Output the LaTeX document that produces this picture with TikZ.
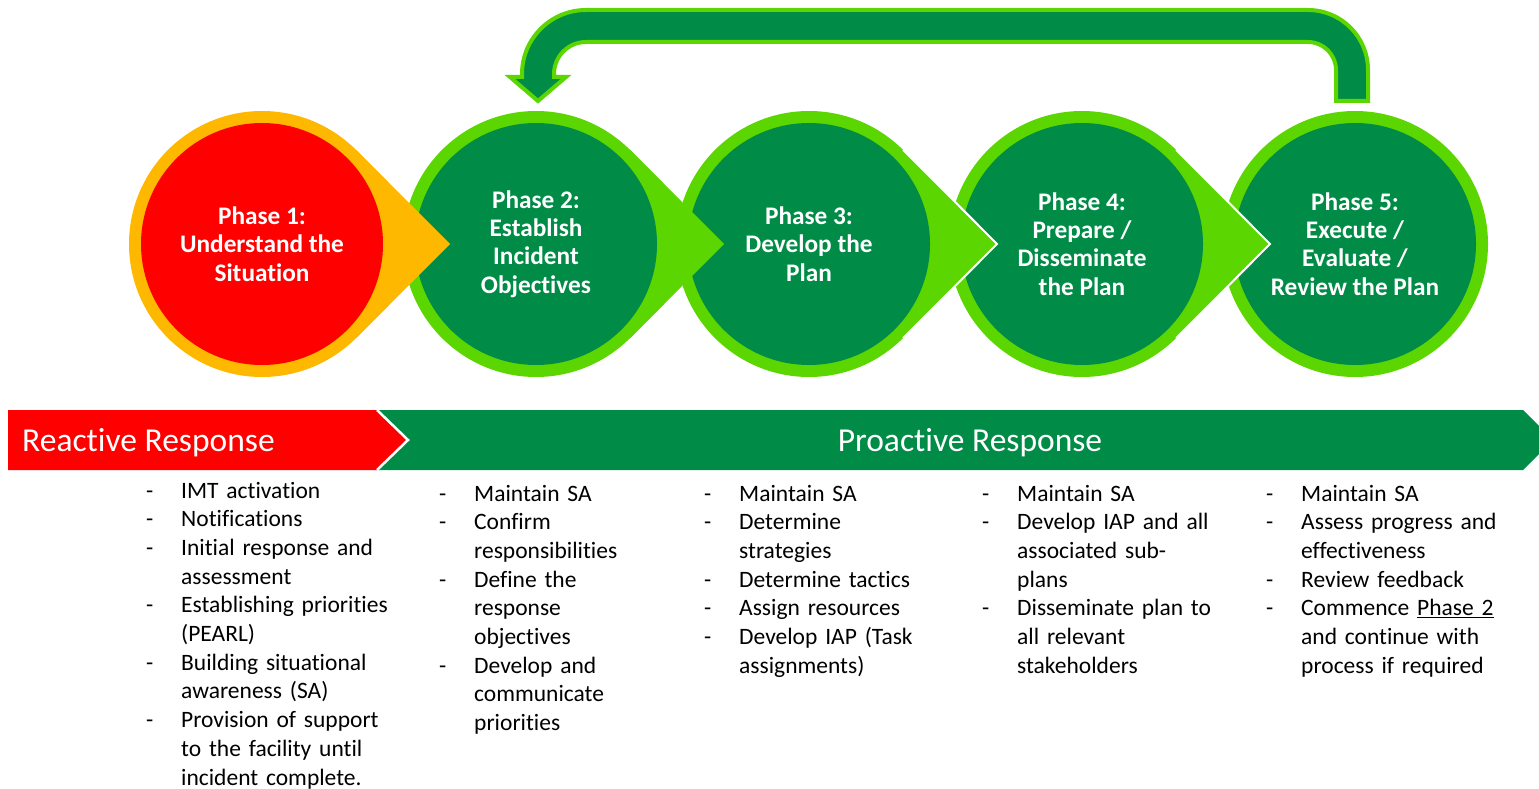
\documentclass[tikz,border=0pt]{standalone}
\usepackage{fontspec}
\setmainfont{Carlito}[Ligatures={NoCommon,NoDiscretionary,NoContextual}]
\definecolor{dkgreen}{HTML}{008C47}
\definecolor{ltgreen}{HTML}{5CD600}
\definecolor{orng}{HTML}{FFB800}
\definecolor{rred}{HTML}{FF0000}
\newcommand\dw{35pt}
\newcommand\dashitem{\makebox[\dw][l]{-}}
\newcommand\noitem{\makebox[\dw]{}}
\tikzset{
  phasetext/.style={circle, inner sep=0pt, minimum size=242pt, text=white, align=center,
    font=\fontsize{25.3}{28.3}\selectfont\bfseries},
  outercirc/.style={circle, inner sep=0pt, minimum size=266pt},
  listtext/.style={anchor=base west, inner sep=0pt, text width=320pt, align=left,
    font=\fontsize{23.5}{28.7}\selectfont},
  bandtext/.style={text=white, inner sep=0pt, font=\fontsize{33.5}{40}\selectfont},
  tipedge/.style={white, line width=2pt}
}
\begin{document}
\begin{tikzpicture}[x=1pt,y=-1pt]
\useasboundingbox (0,0) rectangle (1539,789);

% ---------- phase 5 ----------
\node[outercirc, fill=ltgreen] (o5) at (1355,244) {};
\node[phasetext, fill=dkgreen] (p5) at (o5.center) {Phase 5:\\Execute /\\Evaluate /\\Review the Plan};

% ---------- phase 4 ----------
\node[outercirc, fill=ltgreen] (o4) at (1082,244) {};
\coordinate (t4) at (1270,244);
\fill[ltgreen] (o4.45) -- (t4) -- (o4.-45) -- (o4.center) -- cycle;
\draw[tipedge] (o4.45) -- (t4) -- (o4.-45);
\node[phasetext, fill=dkgreen] (p4) at (o4.center) {Phase 4:\\Prepare /\\Disseminate\\the Plan};

% ---------- phase 3 ----------
\node[outercirc, fill=ltgreen] (o3) at (809,244) {};
\coordinate (t3) at (997,244);
\fill[ltgreen] (o3.45) -- (t3) -- (o3.-45) -- (o3.center) -- cycle;
\draw[tipedge] (o3.45) -- (t3) -- (o3.-45);
\node[phasetext, fill=dkgreen] (p3) at (o3.center) {Phase 3:\\Develop the\\Plan};

% ---------- phase 2 ----------
\node[outercirc, fill=ltgreen] (o2) at (536,244) {};
\coordinate (t2) at (724,244);
\fill[ltgreen] (o2.45) -- (t2) -- (o2.-45) -- (o2.center) -- cycle;
\node[phasetext, fill=dkgreen] (p2) at (o2.center) {Phase 2:\\Establish\\Incident\\Objectives};

% ---------- phase 1 ----------
\node[outercirc, fill=orng] (o1) at (262,244) {};
\coordinate (t1) at (450,244);
\fill[orng] (o1.45) -- (t1) -- (o1.-45) -- (o1.center) -- cycle;
\node[phasetext, fill=rred] (p1) at (o1.center) {Phase 1:\\Understand the\\Situation};

% ---------- loop-back arrow from phase 5 to phase 2 ----------
\draw[fill=dkgreen, draw=ltgreen, line width=4pt, line join=miter]
  (1368,101) -- (1368,70) arc[start angle=0, end angle=-90, radius=60]
  -- (586,10) arc[start angle=-90, end angle=-180, radius=64]
  -- (522,77) -- (510,77) -- (538,101) -- (566,77) -- (554,77)
  -- (554,74) arc[start angle=180, end angle=270, radius=32]
  -- (1308,42) arc[start angle=-90, end angle=0, radius=28]
  -- (1336,101) -- cycle;

% ---------- response bands ----------
\fill[dkgreen] (378,410) -- (1523,410) -- (1553,440) -- (1523,470) -- (378,470) -- (408,440) -- cycle;
\fill[rred] (8,410) -- (377,410) -- (408,440) -- (377,470) -- (8,470) -- cycle;
\draw[tipedge, line width=2.5pt] (377,410) -- (408,440) -- (377,470);
\node[bandtext, anchor=base west] (rr) at (22,451) {Reactive Response};
\node[bandtext, anchor=base] (pr) at (970,451) {Proactive Response};

% ---------- lists ----------
\node[listtext] (l1) at (146,498) {%
\dashitem IMT activation\\
\dashitem Notifications\\
\dashitem Initial response and\\
\noitem assessment\\
\dashitem Establishing priorities\\
\noitem (PEARL)\\
\dashitem Building situational\\
\noitem awareness (SA)\\
\dashitem Provision of support\\
\noitem to the facility until\\
\noitem incident complete.};

\node[listtext] (l2) at (439,501) {%
\dashitem Maintain SA\\
\dashitem Confirm\\
\noitem responsibilities\\
\dashitem Define the\\
\noitem response\\
\noitem objectives\\
\dashitem Develop and\\
\noitem communicate\\
\noitem priorities};

\node[listtext] (l3) at (704,501) {%
\dashitem Maintain SA\\
\dashitem Determine\\
\noitem strategies\\
\dashitem Determine tactics\\
\dashitem Assign resources\\
\dashitem Develop IAP (Task\\
\noitem assignments)};

\node[listtext] (l4) at (982,501) {%
\dashitem Maintain SA\\
\dashitem Develop IAP and all\\
\noitem associated sub-\\
\noitem plans\\
\dashitem Disseminate plan to\\
\noitem all relevant\\
\noitem stakeholders};

\node[listtext] (l5) at (1266,501) {%
\dashitem Maintain SA\\
\dashitem Assess progress and\\
\noitem effectiveness\\
\dashitem Review feedback\\
\dashitem Commence \underline{Phase 2}\\
\noitem and continue with\\
\noitem process if required};
\end{tikzpicture}
\end{document}
